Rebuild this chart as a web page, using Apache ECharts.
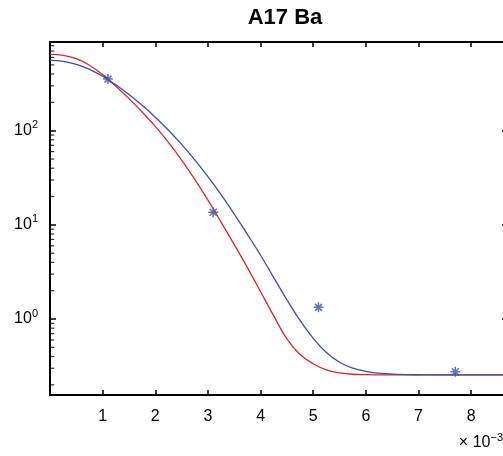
<!DOCTYPE html>
<html>
<head>
<meta charset="utf-8">
<script src="https://cdn.jsdelivr.net/npm/echarts@6/dist/echarts.min.js"></script>
<style>html,body{margin:0;padding:0;background:#fff}#c{width:503px;height:456px}</style>
</head>
<body>
<div id="c"></div>
<script>
// ---- data (x in units of 1e-3) ----
var title = 'A17 Ba';
var curveX = [0,0.25,0.5,0.75,1,1.25,1.5,1.75,2,2.25,2.5,2.75,3,3.25,3.5,3.75,4,4.25,4.5,4.75,5,5.25,5.5,5.75,6,6.25,6.5,6.75,7,7.25,7.5,8,8.5,8.7];
var redY  = [646,631,582,496,394,297,219,158,111,75.0,48.8,30.4,18.3,10.7,6.17,3.51,1.95,1.079,0.614,0.420,0.335,0.288,0.268,0.259,0.2564,0.2553,0.255,0.255,0.255,0.255,0.255,0.255,0.255,0.255];
var blueY = [557,545,506,449,379,307,242,186,139,101,71.6,49.0,32.5,20.9,13.0,7.94,4.76,2.75,1.603,0.966,0.624,0.442,0.347,0.301,0.278,0.266,0.260,0.257,0.2559,0.2553,0.255,0.255,0.255,0.255];
var pointX = [1.1, 3.1, 5.1, 7.7];
var pointY = [353, 13.6, 1.33, 0.276];
var xTickLabels = [1,2,3,4,5,6,7,8];
var yMajor = [1, 10, 100];
var yMinor = [0.2,0.3,0.4,0.5,0.6,0.7,0.8,0.9,2,3,4,5,6,7,8,9,20,30,40,50,60,70,80,90,200,300,400,500,600,700,800];

var FONT = 'Liberation Sans, Arial, Helvetica, sans-serif';
var X_MIN = 0, X_MAX = 8.7, Y_MIN = 0.156, Y_MAX = 875;
var BLUE = '#3a4ea6', RED = '#d8282b';

function zip(a, b) { return a.map(function (v, i) { return [v, b[i]]; }); }
function expOf(v) { return String(Math.round(Math.log10(v))); }

var chart = echarts.init(document.getElementById('c'), null, { renderer: 'canvas' });

var axisLineStyle = { color: '#000', width: 2 };
var xBase = {
  type: 'value', min: X_MIN, max: X_MAX, interval: 1,
  splitLine: { show: false },
  axisLine: { show: true, onZero: false, lineStyle: axisLineStyle },
  axisTick: { show: true, inside: true, length: 5, lineStyle: { color: '#000', width: 1.5 }, customValues: xTickLabels }
};
var yBase = {
  type: 'log', logBase: 10, min: Y_MIN, max: Y_MAX,
  splitLine: { show: false }, minorTick: { show: false },
  axisLine: { show: true, onZero: false, lineStyle: axisLineStyle }
};

var option = {
  animation: false,
  backgroundColor: '#fff',
  grid: { left: 50, top: 42, right: -5, bottom: 61, containLabel: false, outerBoundsMode: 'none' },
  xAxis: [
    Object.assign({}, xBase, {
      position: 'bottom',
      axisLabel: { show: true, customValues: xTickLabels, color: '#000', fontSize: 16, fontFamily: FONT, margin: 14 }
    }),
    Object.assign({}, xBase, { position: 'top', axisLabel: { show: false } })
  ],
  yAxis: [
    Object.assign({}, yBase, {
      position: 'left',
      axisTick: { show: true, inside: true, length: 6, lineStyle: { color: '#000', width: 1.5 }, customValues: yMajor },
      axisLabel: {
        show: true, customValues: yMajor, margin: 12, color: '#000', fontFamily: FONT,
        formatter: function (v) { return '{b|10}{e|' + expOf(v) + '}'; },
        rich: {
          b: { fontSize: 16, fontFamily: FONT, color: '#000' },
          e: { fontSize: 11, fontFamily: FONT, color: '#000', padding: [0, 0, 11, 0] }
        }
      }
    }),
    Object.assign({}, yBase, {
      position: 'right',
      axisTick: { show: true, inside: true, length: 6, lineStyle: { color: '#000', width: 1.5 }, customValues: yMajor },
      axisLabel: { show: false }
    })
  ],
  graphic: [
    {
      type: 'text', x: 285, y: 18, silent: true,
      style: { text: title, font: 'bold 22px ' + FONT, fill: '#000', align: 'center', verticalAlign: 'middle' }
    },
    {
      type: 'text', x: 503, y: 443, silent: true,
      style: {
        text: '\u00d7 10{e|\u22123}', font: '16px ' + FONT, fill: '#000', align: 'right', verticalAlign: 'middle',
        rich: { e: { fontSize: 11, fontFamily: FONT, fill: '#000', padding: [0, 0, 11, 0] } }
      }
    }
  ],
  series: [
    {
      // minor ticks of the log axis, placed through the axis scale
      type: 'scatter', name: 'minorTicks', xAxisIndex: 0, yAxisIndex: 0, silent: true, clip: false,
      data: yMinor.map(function (v) { return [X_MIN, v]; }),
      symbol: 'rect', symbolSize: [3.5, 1.2], symbolOffset: [2.5, 0],
      itemStyle: { color: '#000' }, z: 6
    },
    {
      type: 'line', name: 'fit2', xAxisIndex: 0, yAxisIndex: 0,
      data: zip(curveX, redY), showSymbol: false, smooth: 0.4,
      lineStyle: { color: RED, width: 1.3 }, z: 3
    },
    {
      type: 'line', name: 'fit1', xAxisIndex: 0, yAxisIndex: 0,
      data: zip(curveX, blueY), showSymbol: false, smooth: 0.4,
      lineStyle: { color: BLUE, width: 1.3 }, z: 4
    },
    {
      type: 'scatter', name: 'data', xAxisIndex: 0, yAxisIndex: 0,
      data: zip(pointX, pointY),
      symbol: 'path://M5,0L5,10M0,5L10,5M1.5,1.5L8.5,8.5M8.5,1.5L1.5,8.5',
      symbolSize: 10,
      itemStyle: { color: 'rgba(0,0,0,0)', borderColor: BLUE, borderWidth: 1.5 }, z: 5
    }
  ]
};
chart.setOption(option);
</script>
</body>
</html>
